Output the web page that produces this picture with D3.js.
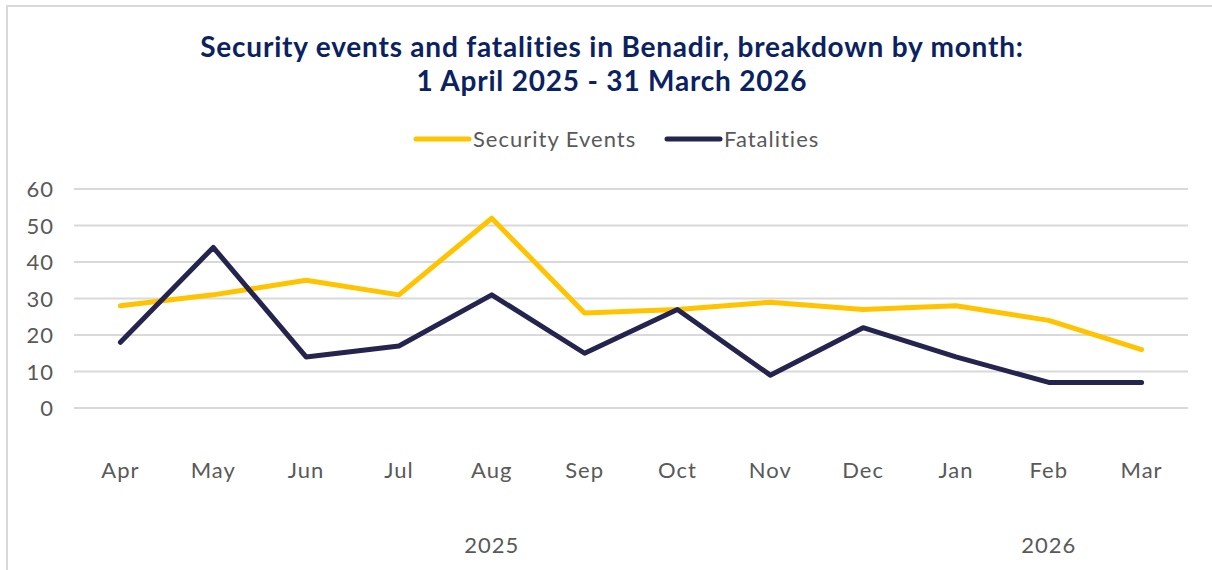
<!DOCTYPE html>
<html><head><meta charset="utf-8">
<script src="https://cdn.jsdelivr.net/npm/d3@7"></script>
<style>body{margin:0;background:#fff;} svg{display:block;}</style>
</head><body>
<svg id="chart" width="1212" height="570"></svg>
<script>
const months = ["Apr","May","Jun","Jul","Aug","Sep","Oct","Nov","Dec","Jan","Feb","Mar"];
const years = [{label:"2025", from:"Apr", to:"Dec"}, {label:"2026", from:"Jan", to:"Mar"}];
const securityEvents = [28,31,35,31,52,26,27,29,27,28,24,16];
const fatalities = [18,44,14,17,31,15,27,9,22,14,7,7];
const yTicks = [0,10,20,30,40,50,60];
const seriesNames = ["Security Events","Fatalities"];
const colors = ["#FFC300","#24244F"];

const svg = d3.select("#chart");
const font = "Lato, 'Open Sans', sans-serif";
const ls = 1;

// frame
svg.append("line").attr("x1",6).attr("x2",1212).attr("y1",6).attr("y2",6).attr("stroke","#d9d9d9").attr("stroke-width",2);
svg.append("line").attr("x1",7).attr("x2",7).attr("y1",5).attr("y2",570).attr("stroke","#d9d9d9").attr("stroke-width",2);

// title
const title = svg.append("text").attr("text-anchor","middle").attr("font-family",font).attr("font-weight",700)
  .attr("font-size",28).attr("letter-spacing",0.8).attr("fill","#0B2260");
title.append("tspan").attr("x",612).attr("y",57).text("Security events and fatalities in Benadir, breakdown by month:");
title.append("tspan").attr("x",612).attr("y",91).text("1 April 2025 - 31 March 2026");

const x = d3.scaleBand().domain(months).range([74,1188]);
const y = d3.scaleLinear().domain([0,60]).range([408,189]);

// gridlines
svg.append("g").selectAll("line").data(yTicks).join("line")
  .attr("x1",74).attr("x2",1188).attr("y1",d=>y(d)).attr("y2",d=>y(d))
  .attr("stroke","#d9d9d9").attr("stroke-width",2);

// y axis labels
const yAxis = svg.append("g").attr("transform","translate(54,0)")
  .call(d3.axisLeft(y).tickValues(yTicks).tickSize(0).tickPadding(0));
yAxis.select(".domain").remove();
yAxis.selectAll("text").attr("font-family",font).attr("font-size",22).attr("letter-spacing",ls).attr("fill","#595959").attr("x",0).attr("dy","0.35em");

// x axis labels
const xAxis = svg.append("g").attr("transform","translate(0,470)")
  .call(d3.axisBottom(x).tickSize(0).tickPadding(0));
xAxis.select(".domain").remove();
xAxis.selectAll("text").attr("font-family",font).attr("font-size",22).attr("letter-spacing",ls).attr("fill","#595959").attr("dy","0.35em");

// year labels
svg.append("g").selectAll("text").data(years).join("text")
  .attr("x",d=>(x(d.from)+x(d.to)+x.bandwidth())/2).attr("y",545).attr("dy","0.35em")
  .attr("text-anchor","middle").attr("font-family",font).attr("font-size",22).attr("letter-spacing",ls).attr("fill","#595959")
  .text(d=>d.label);

// lines
const line = d3.line().x((d,i)=>x(months[i])+x.bandwidth()/2).y(d=>y(d));
[securityEvents, fatalities].forEach((s,i)=>{
  svg.append("path").datum(s).attr("d",line).attr("fill","none").attr("stroke",colors[i])
    .attr("stroke-width",5).attr("stroke-linecap","round").attr("stroke-linejoin","round");
});

// legend
const legendItems = [{x:414, name:seriesNames[0], c:colors[0]},{x:665, name:seriesNames[1], c:colors[1]}];
const lg = svg.append("g").selectAll("g").data(legendItems).join("g").attr("transform",d=>`translate(${d.x},139)`);
lg.append("line").attr("x1",2).attr("x2",55).attr("y1",0).attr("y2",0).attr("stroke",d=>d.c).attr("stroke-width",5).attr("stroke-linecap","round");
lg.append("text").attr("x",59).attr("y",0).attr("dy","0.35em").attr("font-family",font).attr("font-size",22).attr("letter-spacing",ls).attr("fill","#595959").text(d=>d.name);
</script>
</body></html>
